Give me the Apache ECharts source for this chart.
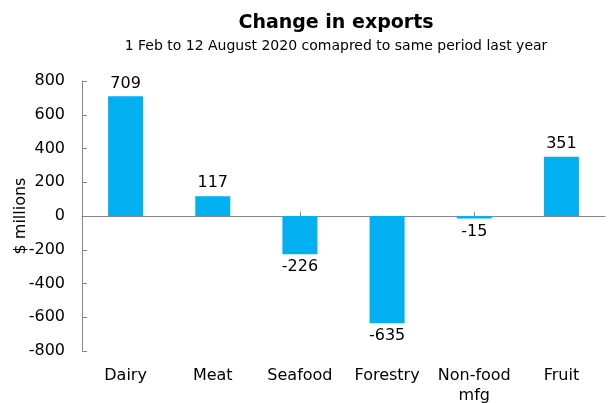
<!DOCTYPE html>
<html>
<head>
<meta charset="utf-8">
<script src="https://cdn.jsdelivr.net/npm/echarts@6/dist/echarts.min.js"></script>
<style>
  html, body { margin: 0; padding: 0; background: #fff; }
  #chart { width: 608px; height: 403px; }
</style>
</head>
<body>
<div id="chart"></div>
<script>
// data
const categories = ['Dairy', 'Meat', 'Seafood', 'Forestry', 'Non-food mfg', 'Fruit'];
const changeValues = [709, 117, -226, -635, -15, 351];
const yTicks = { min: -800, max: 800, step: 200 };

const FONT = 'DejaVu Sans';
const AXIS_GREY = '#868686';

const chart = echarts.init(document.getElementById('chart'));

const option = {
  animation: false,
  textStyle: { fontFamily: FONT },
  title: {
    text: 'Change in exports',
    subtext: '1 Feb to 12 August 2020 comapred to same period last year',
    left: 336,
    top: 14,
    textAlign: 'center',
    itemGap: 6,
    padding: 0,
    textStyle: { fontFamily: FONT, fontSize: 19, fontWeight: 'bold', color: '#000' },
    subtextStyle: { fontFamily: FONT, fontSize: 14, color: '#000' }
  },
  // fixed plot box, don't let v6 shrink it around the labels
  grid: { left: 82, right: 3, top: 81, bottom: 52, outerBoundsMode: 'none' },
  xAxis: [
    {
      // labels sit along the bottom of the plot
      type: 'category',
      data: categories,
      position: 'bottom',
      axisLine: { show: false, onZero: false },
      axisTick: { show: false },
      axisLabel: {
        fontFamily: FONT,
        fontSize: 16,
        color: '#000',
        margin: 15,
        lineHeight: 20,
        interval: 0,
        formatter: v => v.replace(' ', '\n')
      }
    },
    {
      // the zero line with its little ticks
      type: 'category',
      data: categories,
      position: 'bottom',
      axisLine: { show: true, onZero: true, lineStyle: { color: AXIS_GREY, width: 1 } },
      axisTick: { show: true, inside: true, alignWithLabel: true, length: 4, lineStyle: { color: AXIS_GREY } },
      axisLabel: { show: false },
      splitLine: { show: false }
    }
  ],
  yAxis: {
    type: 'value',
    min: yTicks.min,
    max: yTicks.max,
    interval: yTicks.step,
    name: '$ millions',
    nameLocation: 'middle',
    nameGap: 53,
    nameMoveOverlap: false,
    nameTextStyle: { fontFamily: FONT, fontSize: 16, color: '#000' },
    axisLine: { show: true, lineStyle: { color: AXIS_GREY, width: 1 } },
    axisTick: { show: true, inside: true, length: 5, lineStyle: { color: AXIS_GREY } },
    axisLabel: { fontFamily: FONT, fontSize: 16, color: '#000', margin: 17 },
    splitLine: { show: false }
  },
  series: [
    {
      type: 'bar',
      xAxisIndex: 0,
      barWidth: 35,
      itemStyle: { color: '#00B0F0' },
      label: {
        show: true,
        fontFamily: FONT,
        fontSize: 16,
        color: '#000',
        distance: 5
      },
      data: changeValues.map(v => ({
        value: v,
        label: { position: v < 0 ? 'bottom' : 'top' }
      }))
    }
  ]
};

chart.setOption(option);
</script>
</body>
</html>
